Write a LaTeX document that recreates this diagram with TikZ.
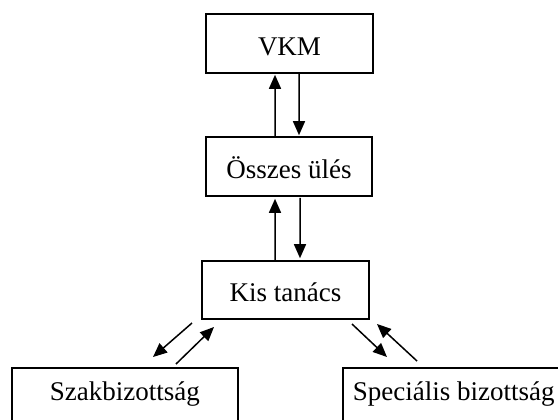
\documentclass[tikz,border=0pt]{standalone}
\usepackage{fontspec}
\setmainfont{Liberation Serif}
\usetikzlibrary{arrows.meta}
\tikzset{
  box/.style={draw, line width=1.6bp, rectangle, inner xsep=0pt, inner ysep=0pt,
    text height=23bp, text depth=0bp, font=\fontsize{27bp}{31bp}\selectfont},
  lowbox/.style={box, text height=33bp, text depth=30bp, anchor=north west},
  flow/.style={line width=1.5bp, -{Triangle[length=14bp, width=12bp]}}
}
\begin{document}
\begin{tikzpicture}[x=1bp, y=-1bp]
\path[use as bounding box] (0,0) rectangle (558,419);
\clip (0,0) rectangle (558,419);
\fill[white] (0,0) rectangle (558,419);

\node[box, minimum width=167bp, minimum height=59bp] (vkm) at (289.5,43.5) {VKM};
\node[box, minimum width=166bp, minimum height=59bp] (ossz) at (289,166.5) {Összes ülés};
\node[box, minimum width=167bp, minimum height=58bp] (kis) at (285.5,290) {Kis tanács};
\node[lowbox, minimum width=226bp] (szak) at (11,367) {Szakbizottság};
\node[lowbox, minimum width=222bp] (spec) at (342,367) {Speciális bizottság};

% vertical arrows
\draw[flow] ([xshift=-14bp]ossz.north) -- ([xshift=-14.5bp,yshift=-1bp]vkm.south);
\draw[flow] ([xshift=9.5bp]vkm.south) -- ([xshift=10bp,yshift=1bp]ossz.north);
\draw[flow] ([xshift=-10.5bp]kis.north) -- ([xshift=-14bp,yshift=-2bp]ossz.south);
\draw[flow] ([xshift=11bp,yshift=-1bp]ossz.south) -- ([xshift=14.5bp,yshift=2bp]kis.north);

% diagonal arrows
\coordinate (l1s) at (192,323);
\coordinate (l1e) at (153,357);
\coordinate (l2s) at (176,364);
\coordinate (l2e) at (214,327);
\coordinate (r1s) at (352,324);
\coordinate (r1e) at (387,357);
\coordinate (r2s) at (417,361);
\coordinate (r2e) at (377,324);
\draw[flow] (l1s) -- (l1e);
\draw[flow] (l2s) -- (l2e);
\draw[flow] (r1s) -- (r1e);
\draw[flow] (r2s) -- (r2e);
\end{tikzpicture}
\end{document}
